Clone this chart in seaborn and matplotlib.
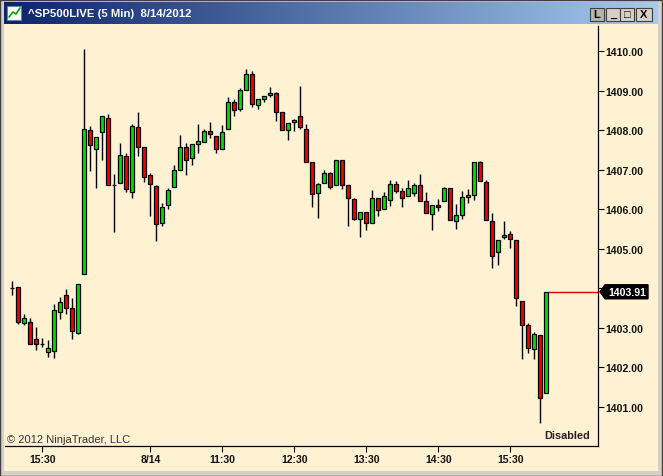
import numpy as np
import pandas as pd
import matplotlib
matplotlib.use('Agg')
import matplotlib.pyplot as plt
import matplotlib.transforms as mtransforms
from matplotlib.patches import Rectangle, Polygon
import seaborn as sns

# 5 minute bars, ^SP500LIVE, 8/13 close + 8/14 session
opens = [1404.01, 1404.03, 1403.11, 1403.15, 1402.72, 1402.58, 1402.39, 1402.41, 1403.40, 1403.83,
         1403.50, 1402.87, 1404.36, 1408.00, 1407.53, 1407.95, 1408.32, 1406.62, 1406.67, 1407.36,
         1406.44, 1408.07, 1407.58, 1406.87, 1406.60, 1405.66, 1406.11, 1406.57, 1407.00, 1407.58,
         1407.30, 1407.66, 1407.71, 1407.99, 1407.86, 1407.53, 1408.04, 1408.72, 1408.55, 1409.03,
         1409.43, 1408.65, 1408.78, 1408.90, 1408.95, 1408.47, 1408.01, 1408.22, 1408.37, 1408.04,
         1407.20, 1406.42, 1406.67, 1406.92, 1406.62, 1407.25, 1406.62, 1406.27, 1405.76, 1405.94,
         1405.66, 1406.29, 1406.01, 1406.24, 1406.65, 1406.47, 1406.34, 1406.42, 1406.62, 1406.21,
         1405.88, 1406.11, 1406.21, 1406.54, 1405.71, 1405.86, 1406.32, 1406.37, 1407.20, 1406.70,
         1405.71, 1404.92, 1405.30, 1405.38, 1405.23, 1403.68, 1403.07, 1402.46, 1402.82, 1401.35]
highs = [1404.19, 1404.03, 1403.36, 1403.25, 1403.03, 1402.74, 1402.70, 1403.60, 1403.77, 1403.99,
         1403.76, 1404.11, 1410.05, 1408.12, 1407.84, 1408.37, 1408.40, 1406.88, 1407.67, 1407.43,
         1408.17, 1408.45, 1407.58, 1406.93, 1406.62, 1406.16, 1406.53, 1407.13, 1407.87, 1407.69,
         1407.66, 1408.15, 1408.02, 1408.20, 1407.86, 1408.14, 1408.85, 1408.80, 1409.06, 1409.54,
         1409.49, 1408.78, 1408.88, 1409.10, 1408.98, 1408.47, 1408.19, 1408.29, 1409.13, 1408.17,
         1407.20, 1406.67, 1407.00, 1406.95, 1407.25, 1407.25, 1406.62, 1406.29, 1405.94, 1405.94,
         1406.49, 1406.29, 1406.44, 1406.75, 1406.72, 1406.54, 1406.75, 1406.67, 1406.90, 1406.44,
         1406.11, 1406.27, 1406.57, 1406.54, 1406.14, 1406.47, 1406.52, 1407.20, 1407.23, 1406.75,
         1405.91, 1405.23, 1405.71, 1405.45, 1405.23, 1403.68, 1403.12, 1402.89, 1402.82, 1403.91]
lows = [1403.84, 1403.10, 1403.08, 1402.58, 1402.43, 1402.51, 1402.26, 1402.23, 1403.22, 1403.35,
        1402.72, 1402.83, 1404.36, 1406.97, 1406.53, 1407.24, 1406.62, 1405.42, 1406.67, 1406.44,
        1406.28, 1407.35, 1406.69, 1405.82, 1405.19, 1405.57, 1406.01, 1406.57, 1407.00, 1406.86,
        1407.12, 1407.42, 1407.71, 1407.80, 1407.42, 1407.53, 1408.04, 1408.36, 1408.50, 1409.03,
        1408.60, 1408.54, 1408.71, 1408.85, 1408.23, 1408.01, 1407.75, 1407.99, 1408.04, 1407.20,
        1406.05, 1405.77, 1406.67, 1406.52, 1406.62, 1406.52, 1405.57, 1405.72, 1405.29, 1405.47,
        1405.66, 1405.82, 1406.01, 1406.09, 1406.42, 1406.06, 1406.34, 1406.34, 1406.21, 1405.91,
        1405.47, 1405.96, 1406.21, 1405.73, 1405.49, 1405.76, 1406.16, 1406.24, 1406.72, 1405.73,
        1404.52, 1404.59, 1405.25, 1405.02, 1403.55, 1402.22, 1402.36, 1402.20, 1400.60, 1401.35]
closes = [1404.01, 1403.14, 1403.25, 1402.59, 1402.59, 1402.58, 1402.49, 1403.45, 1403.65, 1403.50,
          1402.92, 1404.11, 1408.04, 1407.62, 1407.84, 1408.37, 1406.62, 1406.62, 1407.38, 1406.52,
          1408.12, 1407.58, 1406.82, 1406.65, 1405.63, 1406.06, 1406.49, 1407.00, 1407.58, 1407.25,
          1407.66, 1407.74, 1407.99, 1407.91, 1407.53, 1407.96, 1408.72, 1408.52, 1409.03, 1409.43,
          1408.67, 1408.78, 1408.88, 1408.95, 1408.45, 1408.01, 1408.19, 1408.27, 1408.07, 1407.20,
          1406.39, 1406.65, 1406.92, 1406.57, 1407.25, 1406.62, 1406.29, 1405.76, 1405.94, 1405.66,
          1406.29, 1405.99, 1406.34, 1406.65, 1406.47, 1406.29, 1406.54, 1406.62, 1406.21, 1405.91,
          1406.11, 1406.06, 1406.54, 1405.73, 1405.86, 1406.32, 1406.37, 1407.20, 1406.72, 1405.73,
          1404.82, 1405.23, 1405.35, 1405.25, 1403.76, 1403.07, 1402.49, 1402.84, 1401.22, 1403.91]

times = pd.date_range('2012-08-13 15:05', '2012-08-13 16:00', freq='5min').append(
    pd.date_range('2012-08-14 09:35', '2012-08-14 16:00', freq='5min'))
tick_times = ['2012-08-13 15:30', '2012-08-14 10:30', '2012-08-14 11:30', '2012-08-14 12:30',
              '2012-08-14 13:30', '2012-08-14 14:30', '2012-08-14 15:30']
tick_labels = ['15:30', '8/14', '11:30', '12:30', '13:30', '14:30', '15:30']
price_ticks = [1401, 1402, 1403, 1404, 1405, 1406, 1407, 1408, 1409, 1410]
last_price = 1403.91
title = '^SP500LIVE (5 Min)  8/14/2012'

df = pd.DataFrame({'time': times, 'open': opens, 'high': highs, 'low': lows, 'close': closes})
df['bar'] = np.arange(len(df))
df['bottom'] = df[['open', 'close']].min(axis=1)
df['height'] = (df['close'] - df['open']).abs()
UP, DOWN = '#00E000', '#EE0000'
df['color'] = np.where(df['close'] > df['open'], UP, np.where(df['close'] < df['open'], DOWN, 'black'))

cream = '#FFF2D3'
sns.set_style('white', {'axes.facecolor': cream, 'figure.facecolor': cream})
plt.rcParams['font.family'] = ['Liberation Sans', 'DejaVu Sans']

W, H = 663, 477
fig = plt.figure(figsize=(W / 100, H / 100), dpi=100)
fig.patch.set_facecolor(cream)

# plot area in pixels: x 5..598, y 27..447
ax = fig.add_axes([5 / W, 1 - 447 / H, 593 / W, 420 / H])
ax.set_facecolor(cream)

ax.vlines(df['bar'], df['low'], df['high'], color='black', lw=1.0, zorder=2)
ax.bar(df['bar'], df['height'], bottom=df['bottom'], width=0.68, color=df['color'],
       edgecolor='black', linewidth=0.9, zorder=3)

ax.set_xlim(-1.22, 97.6)
ax.set_ylim(1400.005, 1410.64)

# last price line
ax.hlines(last_price, df['bar'].iloc[-1] + 0.35, 97.6, color='#E00000', lw=1.0, zorder=2)

tick_idx = [int(np.where(times == pd.Timestamp(t))[0][0]) for t in tick_times]
ax.set_xticks(tick_idx)
ax.set_xticklabels(tick_labels, fontweight='bold', fontsize=7.6, color='#111111')
# the 1404.00 label sits under the last-price marker, so it is left blank
ax.set_yticks(price_ticks)
ax.set_yticklabels(['' if abs(p - last_price) < 0.3 else f'{p:.2f}' for p in price_ticks],
                   fontweight='bold', fontsize=7.6, color='#111111')
ax.yaxis.tick_right()
ax.tick_params(axis='y', direction='out', length=4, width=0.8, color='black', pad=1.5, right=True, left=False)
ax.tick_params(axis='x', direction='out', length=4, width=0.8, color='black', pad=2, bottom=True)
for s in ['top', 'left']:
    ax.spines[s].set_visible(False)
for s in ['right', 'bottom']:
    ax.spines[s].set_color('black')
    ax.spines[s].set_linewidth(0.9)

ax.text(0.004, 0.004, '\u00a9 2012 NinjaTrader, LLC', transform=ax.transAxes, fontsize=8,
        color='#333333', ha='left', va='bottom')
ax.text(0.987, 0.014, 'Disabled', transform=ax.transAxes, fontsize=7.8, fontweight='bold',
        color='#222222', ha='right', va='bottom')

# price marker on the right axis
fig.canvas.draw()
px, py = ax.transData.transform((97.6, last_price))
ident = mtransforms.IdentityTransform()
marker = Polygon([(px + 2, py), (px + 7, py + 7), (px + 50, py + 7), (px + 50, py - 7), (px + 7, py - 7)],
                 closed=True, transform=ident, facecolor='black', edgecolor='black', zorder=5)
fig.add_artist(marker)
fig.text(px + 29, py, f'{last_price:.2f}', transform=ident, color='white', fontsize=7.6,
         fontweight='bold', ha='center', va='center', zorder=6)

# window chrome
def fr(x, y, w, h):
    return [x / W, 1 - (y + h) / H, w / W, h / H]

gray = '#D4D0C8'
for r in [fr(0, 0, W, 3), fr(0, 0, 4, H), fr(W - 5, 0, 5, H), fr(0, H - 5, W, 5)]:
    fig.add_artist(Rectangle((r[0], r[1]), r[2], r[3], transform=fig.transFigure,
                             facecolor=gray, edgecolor='none', zorder=10))
fig.add_artist(Rectangle((0, 0), 1 - 1 / W, 1 - 1 / H, transform=fig.transFigure, fill=False,
                         edgecolor='#404040', lw=1, zorder=11))

tb = fig.add_axes(fr(4, 3, W - 9, 22))
grad = np.linspace(0, 1, 256)[None, :, None]
c0 = np.array([10, 36, 106]) / 255
c1 = np.array([166, 202, 240]) / 255
tb.imshow(c0 + (c1 - c0) * grad, aspect='auto', extent=[0, 1, 0, 1])
tb.set_axis_off()
tb.text(24 / (W - 9), 0.5, title, color='white', fontsize=8.2, fontweight='bold',
        ha='left', va='center', transform=tb.transAxes)

# title icon
fig.add_artist(Rectangle((7 / W, 1 - 21 / H), 14 / W, 14 / H, transform=fig.transFigure,
                         facecolor='white', edgecolor='#6080B0', lw=0.8, zorder=12))
fig.add_artist(plt.Line2D([9 / W, 13 / W, 16 / W, 20 / W], [1 - 18 / H, 1 - 13 / H, 1 - 15 / H, 1 - 9 / H],
                          transform=fig.transFigure, color='#00A000', lw=1.2, zorder=13))

# title buttons
for x0, label in [(590, 'L'), (606, '_'), (620, '\u25a1'), (636, 'X')]:
    wb = 14 if x0 != 636 else 16
    fig.add_artist(Rectangle((x0 / W, 1 - 22 / H), wb / W, 13 / H, transform=fig.transFigure,
                             facecolor=gray if x0 != 590 else '#B8B4AC', edgecolor='#404040', lw=0.8, zorder=12))
    fig.text((x0 + wb / 2) / W, 1 - 15.5 / H, label, color='black', fontsize=8, fontweight='bold',
             ha='center', va='center', zorder=13)

fig.savefig('out.png', dpi=100, facecolor=fig.get_facecolor())
